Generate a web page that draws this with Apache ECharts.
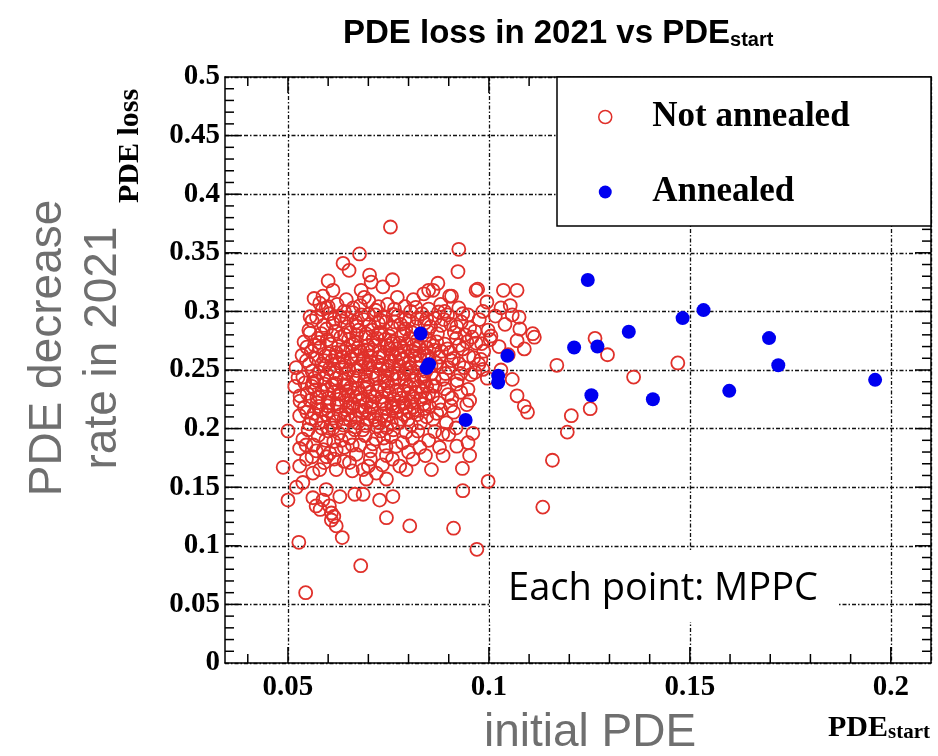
<!DOCTYPE html>
<html>
<head>
<meta charset="utf-8">
<script src="https://cdn.jsdelivr.net/npm/echarts@6/dist/echarts.min.js"></script>
<style>
  html, body { margin: 0; padding: 0; background: #fff; }
  #main { width: 938px; height: 756px; }
</style>
</head>
<body>
<div id="main"></div>
<script>
// axis ranges / ticks
var X_MIN = 0.03433, X_MAX = 0.21;
var X_LABEL_FROM = 0.05, X_LABEL_STEP = 0.05;   // labelled ticks 0.05 .. 0.2
var Y_MIN = 0, Y_MAX = 0.5, Y_STEP = 0.05;
var X_MAJOR_TICKS = [0.05, 0.1, 0.15, 0.2];
var X_MINOR_TICKS = [0.04, 0.06, 0.07, 0.08, 0.09, 0.11, 0.12, 0.13, 0.14, 0.16, 0.17, 0.18, 0.19];
var Y_MAJOR_TICKS = [0.05, 0.1, 0.15, 0.2, 0.25, 0.3, 0.35, 0.4, 0.45];
var Y_MINOR_TICKS = [0.01, 0.02, 0.03, 0.04, 0.06, 0.07, 0.08, 0.09, 0.11, 0.12, 0.13, 0.14,
                     0.16, 0.17, 0.18, 0.19, 0.21, 0.22, 0.23, 0.24, 0.26, 0.27, 0.28, 0.29,
                     0.31, 0.32, 0.33, 0.34, 0.36, 0.37, 0.38, 0.39, 0.41, 0.42, 0.43, 0.44,
                     0.46, 0.47, 0.48, 0.49];

// annealed MPPCs (PDE_start, PDE loss)
var annealed = [
  [0.1246,0.3268],[0.0830,0.2812],[0.0851,0.2550],[0.0845,0.2516],[0.1046,0.2621],
  [0.1023,0.2450],[0.1023,0.2393],[0.0942,0.2074],[0.1212,0.2692],[0.1270,0.2701],
  [0.1255,0.2285],[0.1348,0.2826],[0.1408,0.2251],[0.1482,0.2943],[0.1534,0.3011],
  [0.1598,0.2322],[0.1697,0.2772],[0.1720,0.2541],[0.1961,0.2416]
];

// not annealed MPPCs, split by PDE loss band
var naHigh = [
  [0.0755,0.372],[0.0925,0.353],[0.0923,0.334],[0.0678,0.349],[0.0637,0.341],[0.0652,0.335],
  [0.0703,0.331],[0.0736,0.321],[0.0682,0.318],[0.0907,0.313],[0.0600,0.326],[0.0612,0.318],
  [0.0707,0.325],[0.0760,0.327],[0.0850,0.318],[0.0873,0.324],[0.0861,0.318],[0.0968,0.318],
  [0.1036,0.318],[0.1070,0.318],[0.0972,0.319]
];
var na30 = [
  [0.0565,0.311],[0.0579,0.307],[0.0595,0.303],[0.0587,0.313],[0.0622,0.306],[0.0645,0.310],
  [0.0662,0.303],[0.0701,0.309],[0.0718,0.301],[0.0748,0.306],[0.0772,0.312],[0.0791,0.304],
  [0.0812,0.310],[0.0838,0.315],[0.0902,0.313],[0.0925,0.303],[0.1053,0.305],[0.0995,0.308],
  [0.0948,0.297],[0.1075,0.295],[0.0690,0.312],[0.0880,0.306],
  [0.0600,0.304],[0.0640,0.300],[0.0680,0.305],[0.0725,0.304],[0.0765,0.302],[0.0805,0.300],
  [0.0850,0.302],[0.0890,0.300],[0.0935,0.298],[0.0985,0.300],[0.1030,0.303]
];
var na28 = [
  [0.0552,0.284],[0.0571,0.295],[0.0589,0.288],[0.0604,0.298],[0.0619,0.283],[0.0633,0.292],
  [0.0648,0.287],[0.0661,0.299],[0.0676,0.284],[0.0689,0.293],[0.0703,0.289],[0.0717,0.297],
  [0.0731,0.282],[0.0744,0.291],[0.0759,0.286],[0.0773,0.296],[0.0788,0.281],[0.0801,0.292],
  [0.0817,0.287],[0.0833,0.298],[0.0848,0.283],[0.0866,0.294],[0.0881,0.288],[0.0897,0.297],
  [0.0914,0.282],[0.0931,0.291],[0.0952,0.286],[0.0976,0.293],[0.0998,0.284],[0.1016,0.296],
  [0.1040,0.289],[0.1077,0.285],[0.1109,0.281],[0.1113,0.278],
  [0.0583,0.281],[0.0612,0.290],[0.0641,0.280],[0.0669,0.291],[0.0694,0.281],[0.0725,0.290],
  [0.0752,0.279],[0.0780,0.289],[0.0809,0.282],[0.0840,0.290],[0.0872,0.281],[0.0905,0.289],
  [0.0940,0.280],[0.0965,0.283],[0.1005,0.279],[0.1058,0.297],
  [0.0560,0.292],[0.0596,0.285],[0.0628,0.296],[0.0655,0.282],[0.0683,0.297],[0.0710,0.284],
  [0.0738,0.295],[0.0765,0.291],[0.0793,0.285],[0.0822,0.294],[0.0855,0.287],[0.0888,0.293],
  [0.0920,0.287]
];
var na26 = [
  [0.0540,0.274],[0.0558,0.266],[0.0575,0.277],[0.0579,0.269],[0.0593,0.262],[0.0606,0.272],
  [0.0620,0.265],[0.0631,0.278],[0.0645,0.268],[0.0656,0.261],[0.0668,0.274],[0.0680,0.266],
  [0.0693,0.278],[0.0705,0.262],[0.0716,0.271],[0.0729,0.265],[0.0741,0.276],[0.0753,0.268],
  [0.0766,0.261],[0.0778,0.273],[0.0790,0.266],[0.0803,0.277],[0.0815,0.262],[0.0826,0.270],
  [0.0839,0.264],[0.0852,0.275],[0.0864,0.267],[0.0877,0.261],[0.0890,0.272],[0.0904,0.265],
  [0.0919,0.277],[0.0935,0.268],[0.0950,0.262],[0.0968,0.273],[0.0987,0.266],[0.1003,0.276],
  [0.1025,0.270],[0.1048,0.263],[0.1070,0.275],[0.1088,0.268],[0.1264,0.277],[0.1295,0.263],
  [0.1169,0.254],
  [0.0566,0.271],[0.0598,0.276],[0.0626,0.270],[0.0651,0.276],[0.0674,0.269],[0.0699,0.271],
  [0.0722,0.277],[0.0747,0.271],[0.0771,0.268],[0.0796,0.272],[0.0821,0.275],[0.0845,0.269],
  [0.0870,0.274],[0.0897,0.268],[0.0926,0.271],[0.0958,0.278],[0.0660,0.266],[0.0710,0.267],
  [0.0760,0.264],[0.0810,0.266],
  [0.0570,0.260],[0.0602,0.264],[0.0636,0.261],[0.0662,0.272],[0.0688,0.260],[0.0712,0.276],
  [0.0738,0.262],[0.0762,0.274],[0.0786,0.260],[0.0818,0.268],[0.0848,0.262],[0.0882,0.266],
  [0.0912,0.260],[0.0945,0.274],[0.0980,0.259]
];
var na24 = [
  [0.0520,0.252],[0.0537,0.244],[0.0546,0.258],[0.0560,0.249],[0.0572,0.241],[0.0584,0.255],
  [0.0597,0.246],[0.0609,0.258],[0.0621,0.243],[0.0633,0.252],[0.0646,0.247],[0.0658,0.259],
  [0.0669,0.241],[0.0681,0.253],[0.0693,0.246],[0.0705,0.257],[0.0717,0.243],[0.0729,0.251],
  [0.0741,0.245],[0.0753,0.258],[0.0765,0.242],[0.0777,0.254],[0.0789,0.247],[0.0801,0.256],
  [0.0813,0.241],[0.0825,0.252],[0.0838,0.245],[0.0851,0.259],[0.0864,0.243],[0.0878,0.253],
  [0.0892,0.247],[0.0907,0.258],[0.0921,0.241],[0.0938,0.252],[0.0955,0.246],[0.0975,0.255],
  [0.0996,0.243],[0.1030,0.250],[0.1058,0.242],[0.1360,0.244],[0.1470,0.256],
  [0.0553,0.255],[0.0578,0.248],[0.0603,0.251],[0.0627,0.256],[0.0652,0.250],[0.0675,0.245],
  [0.0699,0.252],[0.0723,0.257],[0.0747,0.250],[0.0771,0.247],[0.0795,0.251],[0.0819,0.256],
  [0.0843,0.249],[0.0868,0.256],[0.0640,0.242],[0.0690,0.240],[0.0740,0.241],[0.0790,0.242],
  [0.0840,0.240],[0.0885,0.242],
  [0.0565,0.243],[0.0590,0.258],[0.0615,0.248],[0.0640,0.257],[0.0663,0.244],[0.0687,0.258],
  [0.0711,0.248],[0.0735,0.254],[0.0759,0.246],[0.0783,0.259],[0.0807,0.248],[0.0831,0.258],
  [0.0857,0.247],[0.0900,0.252],[0.0930,0.247],[0.0965,0.248]
];
var na22 = [
  [0.0517,0.236],[0.0530,0.228],[0.0542,0.239],[0.0555,0.224],[0.0567,0.233],[0.0579,0.227],
  [0.0591,0.238],[0.0602,0.222],[0.0614,0.231],[0.0626,0.225],[0.0638,0.237],[0.0650,0.229],
  [0.0662,0.221],[0.0674,0.234],[0.0686,0.226],[0.0698,0.238],[0.0710,0.223],[0.0722,0.232],
  [0.0734,0.227],[0.0746,0.239],[0.0758,0.221],[0.0770,0.233],[0.0782,0.226],[0.0794,0.237],
  [0.0806,0.223],[0.0818,0.231],[0.0831,0.225],[0.0845,0.236],[0.0860,0.228],[0.0875,0.222],
  [0.0890,0.234],[0.0908,0.226],[0.0930,0.231],[0.0952,0.224],[0.1070,0.228],[0.1088,0.219],
  [0.1096,0.214],[0.1252,0.217],[0.1205,0.211],[0.1195,0.197],
  [0.0560,0.236],[0.0585,0.232],[0.0610,0.237],[0.0633,0.230],[0.0656,0.235],[0.0680,0.230],
  [0.0704,0.231],[0.0728,0.236],[0.0752,0.230],[0.0776,0.229],[0.0800,0.230],[0.0825,0.236],
  [0.0850,0.230],[0.0600,0.226],[0.0645,0.224],[0.0695,0.222],[0.0740,0.221],[0.0790,0.222],
  [0.0838,0.221],
  [0.0548,0.230],[0.0573,0.222],[0.0597,0.233],[0.0622,0.221],[0.0646,0.232],[0.0668,0.227],
  [0.0692,0.234],[0.0716,0.227],[0.0740,0.233],[0.0764,0.225],[0.0788,0.232],[0.0812,0.227],
  [0.0836,0.232],[0.0866,0.236],[0.0898,0.229],[0.0920,0.238]
];
var na20 = [
  [0.0529,0.211],[0.0541,0.218],[0.0553,0.204],[0.0565,0.213],[0.0577,0.219],[0.0589,0.206],
  [0.0601,0.215],[0.0613,0.209],[0.0625,0.219],[0.0637,0.203],[0.0649,0.212],[0.0661,0.218],
  [0.0673,0.205],[0.0685,0.214],[0.0697,0.208],[0.0709,0.219],[0.0721,0.202],[0.0733,0.211],
  [0.0745,0.217],[0.0757,0.205],[0.0769,0.214],[0.0781,0.208],[0.0793,0.218],[0.0807,0.203],
  [0.0822,0.212],[0.0838,0.217],[0.0861,0.208],[0.0894,0.205],[0.0880,0.216],[0.0912,0.214],
  [0.0500,0.198],
  [0.0570,0.207],[0.0595,0.212],[0.0620,0.206],[0.0645,0.216],[0.0668,0.211],[0.0692,0.216],
  [0.0715,0.210],[0.0740,0.207],[0.0764,0.219],[0.0788,0.212],[0.0815,0.216],[0.0845,0.210],
  [0.0547,0.214],[0.0583,0.216],[0.0607,0.203],[0.0631,0.212],[0.0655,0.207],[0.0679,0.219],
  [0.0703,0.213],[0.0727,0.205],[0.0751,0.212],[0.0775,0.219],[0.0799,0.208],[0.0830,0.205],
  [0.0852,0.219],[0.0870,0.213]
];
var naCore = [
  [0.0578,0.2735],[0.0611,0.2795],[0.0637,0.2655],[0.0671,0.2795],[0.0697,0.2665],[0.0727,0.2805],
  [0.0757,0.2725],[0.0783,0.2795],[0.0812,0.2705],[0.0834,0.2795],[0.0862,0.2705],
  [0.0592,0.2535],[0.0618,0.2615],[0.0644,0.2535],[0.0672,0.2625],[0.0701,0.2545],[0.0726,0.2605],
  [0.0750,0.2535],[0.0776,0.2635],[0.0803,0.2525],[0.0828,0.2625],[0.0856,0.2535],
  [0.0562,0.2395],[0.0589,0.2435],[0.0618,0.2385],[0.0645,0.2375],[0.0671,0.2495],[0.0697,0.2355],
  [0.0722,0.2455],[0.0749,0.2365],[0.0776,0.2425],[0.0803,0.2355],[0.0832,0.2435],[0.0860,0.2365],
  [0.0572,0.2265],[0.0598,0.2195],[0.0628,0.2295],[0.0652,0.2185],[0.0679,0.2245],[0.0707,0.2175],
  [0.0733,0.2235],[0.0760,0.2175],[0.0786,0.2215],[0.0812,0.2185],[0.0842,0.2265],
  [0.0558,0.2085],[0.0584,0.2005],[0.0612,0.2005],[0.0640,0.2085],[0.0666,0.2015],[0.0693,0.2025],
  [0.0718,0.2075],[0.0746,0.2005],[0.0774,0.2045],[0.0802,0.2145],
  [0.0555,0.2955],[0.0585,0.3015],[0.0615,0.2935],[0.0646,0.2945],[0.0672,0.2875],[0.0700,0.2975],
  [0.0730,0.2925],[0.0762,0.2975],[0.0792,0.2935],[0.0818,0.3035],[0.0845,0.2935],[0.0875,0.2995],
  [0.0535,0.2625],[0.0530,0.2235],[0.0525,0.2435],[0.0547,0.2695],[0.0555,0.2815],
  [0.0925,0.2555],[0.0948,0.2335],[0.0962,0.2605],[0.0985,0.2505],[0.0982,0.2725],[0.0945,0.2205],
  [0.0905,0.2195],[0.0918,0.2005],[0.0885,0.1955],[0.0865,0.1975]
];
var naLow = [
  [0.0537,0.191],[0.0529,0.183],[0.0550,0.199],[0.0563,0.186],[0.0575,0.194],[0.0588,0.182],
  [0.0601,0.198],[0.0614,0.189],[0.0627,0.196],[0.0640,0.184],[0.0653,0.192],[0.0666,0.199],
  [0.0679,0.186],[0.0692,0.194],[0.0705,0.181],[0.0718,0.191],[0.0731,0.198],[0.0744,0.185],
  [0.0757,0.193],[0.0769,0.185],[0.0794,0.197],[0.0823,0.198],[0.0828,0.184],[0.0877,0.184],
  [0.0948,0.188],[0.0960,0.196],
  [0.0545,0.186],[0.0570,0.181],[0.0594,0.190],[0.0620,0.182],[0.0633,0.190],[0.0660,0.186],
  [0.0686,0.199],[0.0711,0.187],[0.0738,0.192],[0.0762,0.199],[0.0785,0.188],[0.0810,0.192],
  [0.0850,0.190],[0.0900,0.195],[0.0920,0.185],
  [0.0488,0.167],[0.0529,0.168],[0.0546,0.174],[0.0562,0.162],[0.0579,0.165],[0.0596,0.176],
  [0.0620,0.165],[0.0640,0.172],[0.0653,0.171],[0.0670,0.178],[0.0687,0.165],[0.0705,0.174],
  [0.0720,0.162],[0.0745,0.177],[0.0778,0.168],[0.0794,0.165],[0.0811,0.174],[0.0842,0.177],
  [0.0857,0.165],[0.0886,0.177],[0.0934,0.166],[0.0952,0.177],[0.0604,0.179],[0.0735,0.169],
  [0.0560,0.176],[0.0590,0.171],[0.0615,0.174],[0.0660,0.164],[0.0700,0.168],[0.0760,0.174],
  [0.0800,0.180],
  [0.0500,0.139],[0.0521,0.150],[0.0537,0.154],[0.0562,0.141],[0.0570,0.134],[0.0587,0.139],
  [0.0595,0.148],[0.0603,0.134],[0.0629,0.142],[0.0666,0.144],[0.0687,0.144],[0.0695,0.157],
  [0.0728,0.139],[0.0745,0.157],[0.0761,0.142],[0.0998,0.155],[0.0935,0.147],[0.0608,0.128],
  [0.0580,0.131],[0.1134,0.133],[0.1158,0.173],
  [0.0620,0.117],[0.0608,0.122],[0.0635,0.107],[0.0745,0.124],[0.0803,0.117],[0.0912,0.115],
  [0.0970,0.097],[0.0527,0.103],[0.0681,0.083],[0.0544,0.060],[0.0614,0.125]
];
var notAnnealed = [].concat(naHigh, na30, na28, na26, na24, na22, na20, naCore, naLow);

var PLOT_LEFT = 225, PLOT_RIGHT = 931, PLOT_TOP = 77, PLOT_BOTTOM = 663;
var W = 938, H = 756;
var TICK_MAJOR = 16, TICK_MINOR = 9;
function xPix(v) { return PLOT_LEFT + (v - X_MIN) / (X_MAX - X_MIN) * (PLOT_RIGHT - PLOT_LEFT); }

var serifBold = { fontFamily: 'Liberation Serif', fontWeight: 'bold', color: '#000' };
var gray = '#6f6f6f';
var dashGrid = { show: true, lineStyle: { color: '#111', width: 1.3, type: [4, 2, 1.5, 2] } };
var frameLine = function () { return { show: true, onZero: false, lineStyle: { color: '#000', width: 1.5 } }; };
var tickStyle = { stroke: '#000', lineWidth: 1.5 };

// ROOT style inward ticks on all four sides, placed through the axes' scales
function xTickSeries(name, values, len) {
    return {
        name: name, type: 'custom', xAxisIndex: 0, yAxisIndex: 0, z: 2, silent: true,
        data: values.map(function (v) { return [v, Y_MIN]; }),
        renderItem: function (params, api) {
            var b = api.coord([api.value(0), Y_MIN]);
            var t = api.coord([api.value(0), Y_MAX]);
            return { type: 'group', children: [
                { type: 'line', shape: { x1: b[0], y1: b[1], x2: b[0], y2: b[1] - len }, style: tickStyle },
                { type: 'line', shape: { x1: t[0], y1: t[1], x2: t[0], y2: t[1] + len }, style: tickStyle }
            ] };
        }
    };
}
function yTickSeries(name, values, len) {
    return {
        name: name, type: 'custom', xAxisIndex: 0, yAxisIndex: 0, z: 2, silent: true,
        data: values.map(function (v) { return [X_MIN, v]; }),
        renderItem: function (params, api) {
            var l = api.coord([X_MIN, api.value(1)]);
            var r = api.coord([X_MAX, api.value(1)]);
            return { type: 'group', children: [
                { type: 'line', shape: { x1: l[0], y1: l[1], x2: l[0] + len, y2: l[1] }, style: tickStyle },
                { type: 'line', shape: { x1: r[0], y1: r[1], x2: r[0] - len, y2: r[1] }, style: tickStyle }
            ] };
        }
    };
}

var chart = echarts.init(document.getElementById('main'));
chart.setOption({
    backgroundColor: '#fff',
    animation: false,
    title: {
        text: '{a|PDE loss in 2021 vs PDE}{b|start}',
        left: 338,
        top: 9,
        textStyle: {
            rich: {
                a: { fontFamily: 'Liberation Sans', fontWeight: 'bold', fontSize: 33, color: '#000', lineHeight: 36, verticalAlign: 'bottom' },
                b: { fontFamily: 'Liberation Sans', fontWeight: 'bold', fontSize: 20, color: '#000', lineHeight: 14, verticalAlign: 'bottom' }
            }
        }
    },
    grid: [
        { left: PLOT_LEFT, top: PLOT_TOP, right: W - PLOT_RIGHT, bottom: H - PLOT_BOTTOM },
        { left: xPix(X_LABEL_FROM), top: PLOT_TOP, right: W - PLOT_RIGHT, bottom: H - PLOT_BOTTOM }
    ],
    legend: {
        orient: 'vertical',
        left: 593,
        top: 92,
        itemWidth: 84,
        itemHeight: 13,
        itemGap: 35,
        textStyle: { fontFamily: 'Liberation Serif', fontWeight: 'bold', fontSize: 35, color: '#000', lineHeight: 40 },
        z: 5,
        data: [
            { name: 'Not annealed', icon: 'circle', itemStyle: { color: 'rgba(0,0,0,0)', borderColor: '#e0302a', borderWidth: 1.5 } },
            { name: 'Annealed', icon: 'circle', itemStyle: { color: '#0000f0', borderWidth: 0 } }
        ]
    },
    xAxis: [
        { type: 'value', gridIndex: 0, position: 'bottom', min: X_MIN, max: X_MAX,
          axisLine: frameLine(), axisTick: { show: false }, axisLabel: { show: false }, splitLine: { show: false } },
        { type: 'value', gridIndex: 0, position: 'top', min: X_MIN, max: X_MAX,
          axisLine: frameLine(), axisTick: { show: false }, axisLabel: { show: false }, splitLine: { show: false } },
        { type: 'value', gridIndex: 1, position: 'bottom', min: X_LABEL_FROM, max: X_MAX, interval: X_LABEL_STEP,
          axisLine: { show: false, onZero: false }, axisTick: { show: false },
          axisLabel: Object.assign({ fontSize: 29, margin: 10, showMaxLabel: false }, serifBold),
          splitLine: dashGrid }
    ],
    yAxis: [
        { type: 'value', gridIndex: 0, position: 'left', min: Y_MIN, max: Y_MAX, interval: Y_STEP,
          axisLine: frameLine(), axisTick: { show: false },
          axisLabel: Object.assign({ fontSize: 29, margin: 5 }, serifBold),
          splitLine: dashGrid },
        { type: 'value', gridIndex: 0, position: 'right', min: Y_MIN, max: Y_MAX, interval: Y_STEP,
          axisLine: frameLine(), axisTick: { show: false }, axisLabel: { show: false }, splitLine: { show: false } },
        { type: 'value', gridIndex: 1, min: Y_MIN, max: Y_MAX, show: false }
    ],
    series: [
        xTickSeries('xMajor', X_MAJOR_TICKS, TICK_MAJOR),
        xTickSeries('xMinor', X_MINOR_TICKS, TICK_MINOR),
        yTickSeries('yMajor', Y_MAJOR_TICKS, TICK_MAJOR),
        yTickSeries('yMinor', Y_MINOR_TICKS, TICK_MINOR),
        {
            name: 'Not annealed',
            type: 'scatter',
            xAxisIndex: 0, yAxisIndex: 0,
            symbol: 'circle',
            symbolSize: 13,
            z: 2,
            itemStyle: { color: 'rgba(0,0,0,0)', borderColor: '#e0302a', borderWidth: 1.8, opacity: 1 },
            emphasis: { disabled: true },
            data: notAnnealed
        },
        {
            name: 'Annealed',
            type: 'scatter',
            xAxisIndex: 0, yAxisIndex: 0,
            symbol: 'circle',
            symbolSize: 14,
            z: 2,
            itemStyle: { color: '#0000f0', opacity: 1 },
            emphasis: { disabled: true },
            data: annealed
        }
    ],
    graphic: [
        // legend frame
        { type: 'rect', z: 3, shape: { x: 557, y: 77, width: 374, height: 149 },
          style: { fill: '#fff', stroke: '#000', lineWidth: 1.5 } },
        // note box
        { type: 'rect', z: 3, shape: { x: 490, y: 552, width: 348, height: 70 },
          style: { fill: '#fff' } },
        { type: 'text', z: 4, x: 663, y: 589,
          style: { text: 'Each point: MPPC', fontFamily: 'Open Sans', fontSize: 38, fill: '#000', align: 'center', verticalAlign: 'middle' } },
        // ROOT axis titles
        { type: 'text', z: 4, x: 130, y: 146, rotation: Math.PI / 2,
          style: { text: 'PDE loss', fontFamily: 'Liberation Serif', fontWeight: 'bold', fontSize: 30, fill: '#000', align: 'center', verticalAlign: 'middle' } },
        { type: 'text', z: 4, x: 930, y: 727,
          style: {
              text: '{a|PDE}{b|start}', align: 'right', verticalAlign: 'middle',
              rich: {
                  a: { fontFamily: 'Liberation Serif', fontWeight: 'bold', fontSize: 30, fill: '#000', lineHeight: 32, verticalAlign: 'bottom' },
                  b: { fontFamily: 'Liberation Serif', fontWeight: 'bold', fontSize: 21, fill: '#000', lineHeight: 12, verticalAlign: 'bottom' }
              }
          } },
        // slide annotations
        { type: 'text', z: 4, x: 48, y: 348, rotation: Math.PI / 2,
          style: { text: 'PDE decrease', fontFamily: 'Liberation Sans', fontSize: 46, fill: gray, align: 'center', verticalAlign: 'middle' } },
        { type: 'text', z: 4, x: 103, y: 348, rotation: Math.PI / 2,
          style: { text: 'rate in 2021', fontFamily: 'Liberation Sans', fontSize: 46, fill: gray, align: 'center', verticalAlign: 'middle' } },
        { type: 'text', z: 4, x: 590, y: 733,
          style: { text: 'initial PDE', fontFamily: 'Liberation Sans', fontSize: 46, fill: gray, align: 'center', verticalAlign: 'middle' } }
    ]
});
</script>
</body>
</html>
